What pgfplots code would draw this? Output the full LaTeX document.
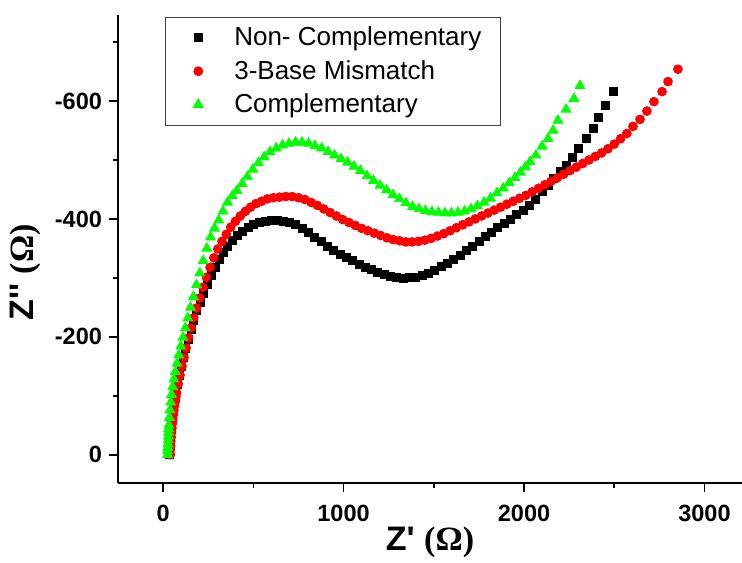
\documentclass[border=0pt]{standalone}
\usepackage{pgfplots}
\pgfplotsset{compat=1.18}
\usepackage{fontspec}
\setmainfont{Liberation Sans}
\newfontfamily\omegafont{Liberation Serif}

\definecolor{mkred}{RGB}{255,0,0}
\definecolor{mkgreen}{RGB}{0,255,0}

\begin{document}
\begin{tikzpicture}
\begin{axis}[
  scale only axis,
  width=312pt, height=234pt,
  xmin=-250, xmax=3208,
  ymin=-746, ymax=48,
  y dir=reverse,
  axis x line*=bottom,
  axis y line*=left,
  axis line style={-, line width=1pt},
  tick align=outside,
  major tick length=4.5pt,
  minor tick length=2.5pt,
  every tick/.style={black, line width=0.8pt},
  xtick={0,1000,2000,3000},
  xticklabels={0,1000,2000,3000},
  minor xtick={500,1500,2500},
  ytick={0,-200,-400,-600},
  yticklabels={0,-200,-400,-600},
  minor ytick={-100,-300,-500,-700},
  ticklabel style={font=\fontsize{11.75}{14}\selectfont\bfseries},
  xticklabel style={yshift=-3pt},
  xlabel={\fontsize{17}{20}\selectfont\bfseries Z\textquotesingle\ {\omegafont(Ω)}},
  xlabel style={yshift=4.5pt},
  ylabel={\fontsize{17}{20}\selectfont\bfseries Z\textquotesingle\textquotesingle\ {\omegafont(Ω)}},
  every axis y label/.style={at={(ticklabel cs:0.45)}, rotate=90, anchor=near ticklabel},
  legend cell align=left,
  legend style={
    at={(0.075,0.996)}, anchor=north west,
    draw=black!75, line width=0.5pt,
    font=\fontsize{13}{15.5}\selectfont,
    inner xsep=7.5pt, inner ysep=2.8pt,
    row sep=1.75pt,
  },
  legend image code/.code={%
    \path[draw=none] (0pt,0pt) -- (25pt,0pt);
    \draw[#1, only marks] plot coordinates {(9pt,0pt)};},
  clip=false,
]
% Non-complementary probe
\addplot[only marks, mark=square*, mark size=2pt, black, mark options={draw=black, fill=black}] coordinates {
(35,0) (36,-8) (37,-15) (38,-23) (40,-30) (42,-38) (44,-45) (46,-53) (49,-60) (52,-68) (55,-75) (58,-83) (62,-90) (66,-98)
(70,-105) (79,-120) (89,-135) (100,-150) (112,-165) (125,-180) (139,-196) (154,-212) (170,-228) (187,-244)
(205,-259) (224,-274) (244,-289) (265,-304) (287,-318) (310,-331) (334,-343) (359,-354) (385,-364) (412,-372)
(440,-379) (470,-385) (500,-390) (532,-394) (565,-396) (598,-397) (632,-397) (666,-396) (700,-394) (735,-390)
(770,-384) (805,-377) (840,-369) (875,-362) (910,-354) (945,-347) (980,-340) (1015,-334) (1050,-329) (1085,-323)
(1120,-318) (1155,-314) (1190,-310) (1225,-306) (1260,-302) (1295,-300) (1330,-299) (1365,-300) (1400,-301)
(1435,-304) (1470,-308) (1505,-313) (1540,-319) (1575,-325) (1610,-332) (1645,-339) (1680,-346) (1715,-354)
(1750,-362) (1785,-370) (1820,-378) (1855,-386) (1890,-393) (1925,-400) (1960,-408) (1995,-415) (2030,-423)
(2065,-434) (2100,-446) (2133,-457) (2165,-468) (2200,-480) (2233,-490) (2266,-505) (2299,-519) (2343,-536)
(2382,-553) (2410,-572) (2449,-592) (2493,-616)
};
\addlegendentry{Non- Complementary}
% 3-base mismatch probe
\addplot[only marks, mark=*, mark size=2.2pt, mark options={draw=mkred, fill=mkred}] coordinates {
(40,0) (41,-8) (42,-15) (43,-23) (45,-30) (47,-38) (49,-45) (51,-53) (54,-60) (57,-68) (60,-75) (63,-83) (67,-90)
(71,-98) (75,-105) (84,-120) (94,-135) (105,-150) (116,-165) (128,-181) (141,-198) (155,-215) (170,-232)
(186,-249) (203,-266) (221,-284) (240,-301) (260,-318) (281,-334) (303,-349) (326,-362) (350,-374) (375,-386)
(401,-396) (428,-405) (456,-413) (485,-420) (515,-426) (546,-430) (578,-434) (611,-436) (645,-437) (680,-438)
(715,-438) (750,-436) (785,-433) (820,-428) (855,-423) (890,-417) (925,-411) (960,-405) (995,-399) (1030,-394)
(1065,-389) (1100,-384) (1135,-380) (1170,-376) (1205,-372) (1240,-368) (1275,-365) (1310,-363) (1345,-361)
(1380,-361) (1415,-362) (1450,-364) (1485,-367) (1520,-371) (1555,-375) (1590,-380) (1625,-385) (1660,-390)
(1695,-395) (1730,-400) (1765,-405) (1800,-410) (1835,-415) (1870,-420) (1905,-425) (1940,-430) (1975,-435)
(2010,-440) (2045,-446) (2080,-452) (2115,-458) (2150,-464) (2185,-470) (2220,-476) (2255,-482) (2290,-488)
(2325,-494) (2360,-500) (2395,-506) (2430,-512) (2465,-519) (2500,-527) (2535,-536) (2570,-545) (2604,-557)
(2643,-569) (2681,-583) (2720,-599) (2765,-616) (2798,-633) (2853,-654)
};
\addlegendentry{3-Base Mismatch}
% Complementary probe
\addplot[only marks, mark=triangle*, mark size=2.8pt, mark options={draw=mkgreen, fill=mkgreen}] coordinates {
(25,0) (25,-6) (26,-12) (27,-18) (28,-25) (29,-31) (30,-38) (31,-44) (32,-50) (35,-63) (38,-76) (42,-89)
(47,-102) (53,-115) (60,-128) (68,-141) (77,-155) (87,-169) (98,-184) (110,-199) (123,-215) (137,-232)
(152,-250) (168,-268) (185,-288) (203,-308) (222,-329) (242,-350) (263,-369) (285,-384) (308,-398) (332,-413)
(357,-428) (383,-439) (410,-448) (438,-460) (467,-472) (497,-484) (528,-495) (560,-505) (593,-514) (627,-520)
(662,-525) (698,-528) (734,-530) (770,-530) (806,-528) (842,-524) (878,-520) (914,-514) (950,-508) (986,-502)
(1022,-496) (1058,-489) (1094,-482) (1130,-473) (1166,-465) (1202,-457) (1238,-449) (1274,-441) (1310,-434)
(1346,-427) (1382,-421) (1418,-417) (1454,-414) (1490,-412) (1526,-411) (1562,-410) (1598,-410) (1634,-411)
(1670,-413) (1706,-417) (1742,-422) (1778,-428) (1814,-435) (1850,-444) (1885,-452) (1918,-461) (1950,-470)
(1980,-479) (2008,-488) (2033,-497) (2066,-508) (2100,-523) (2133,-536) (2161,-550) (2188,-567) (2233,-586)
(2277,-604) (2310,-626)
};
\addlegendentry{Complementary}
\end{axis}
\pgfresetboundingbox
\path[use as bounding box] ([xshift=-59pt,yshift=-39.5pt]current axis.south west) rectangle ([yshift=7.5pt]current axis.north east);
\end{tikzpicture}
\end{document}
